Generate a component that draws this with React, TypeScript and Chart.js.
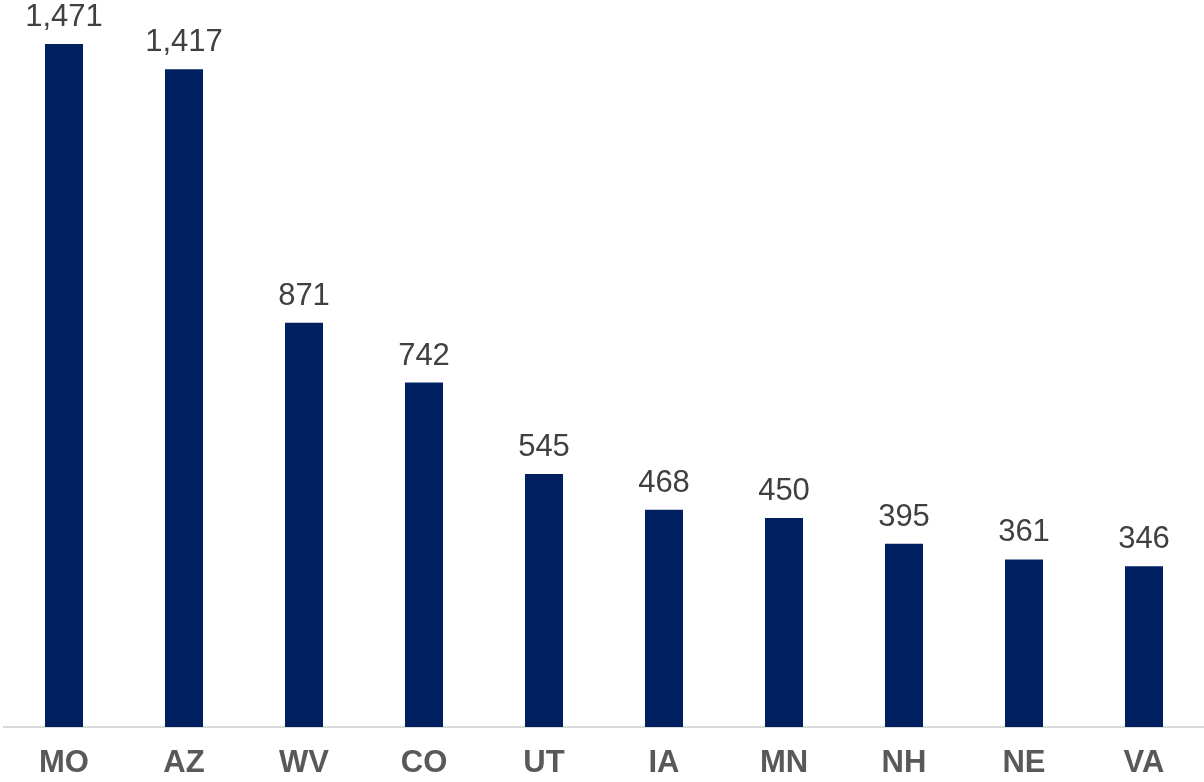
import React, { useEffect, useRef } from "react";
import { Chart, registerables } from "chart.js";

Chart.register(...registerables);

const categories = ["MO", "AZ", "WV", "CO", "UT", "IA", "MN", "NH", "NE", "VA"];
const values = [1471, 1417, 871, 742, 545, 468, 450, 395, 361, 346];
const yMax = 1566;

const FONT = "'Liberation Sans', Arial, sans-serif";

const valueLabels = {
  id: "valueLabels",
  afterDatasetsDraw(chart: any) {
    const ctx = chart.ctx;
    const meta = chart.getDatasetMeta(0);
    ctx.save();
    ctx.font = `31px ${FONT}`;
    ctx.fillStyle = "#404040";
    ctx.textAlign = "center";
    ctx.textBaseline = "alphabetic";
    meta.data.forEach((bar: any, i: number) => {
      ctx.fillText(values[i].toLocaleString("en-US"), bar.x, bar.y - 18);
    });
    ctx.restore();
  },
};

export default function App() {
  const ref = useRef<HTMLCanvasElement>(null);
  useEffect(() => {
    if (!ref.current) return;
    const chart = new Chart(ref.current, {
      type: "bar",
      data: {
        labels: categories,
        datasets: [
          {
            data: values,
            backgroundColor: "#002060",
            categoryPercentage: 1,
            barPercentage: 0.317,
          },
        ],
      },
      options: {
        animation: false,
        responsive: false,
        maintainAspectRatio: false,
        layout: { padding: { left: 4, right: 0, top: 0, bottom: 0 } },
        plugins: { legend: { display: false }, tooltip: { enabled: false } },
        scales: {
          y: { display: false, min: 0, max: yMax },
          x: {
            grid: { display: false, drawTicks: false },
            border: { display: true, color: "#d9d9d9", width: 2 },
            ticks: {
              padding: 18,
              color: "#595959",
              font: { family: FONT, size: 31, weight: "bold" },
            },
            afterFit(scale: any) {
              scale.height = 55;
            },
          },
        },
      },
      plugins: [valueLabels],
    });
    return () => chart.destroy();
  }, []);
  return (
    <div style={{ position: "absolute", left: 0, top: 0, width: 1204, height: 782, background: "#fff" }}>
      <canvas ref={ref} width={1204} height={782} style={{ width: 1204, height: 782 }} />
    </div>
  );
}
